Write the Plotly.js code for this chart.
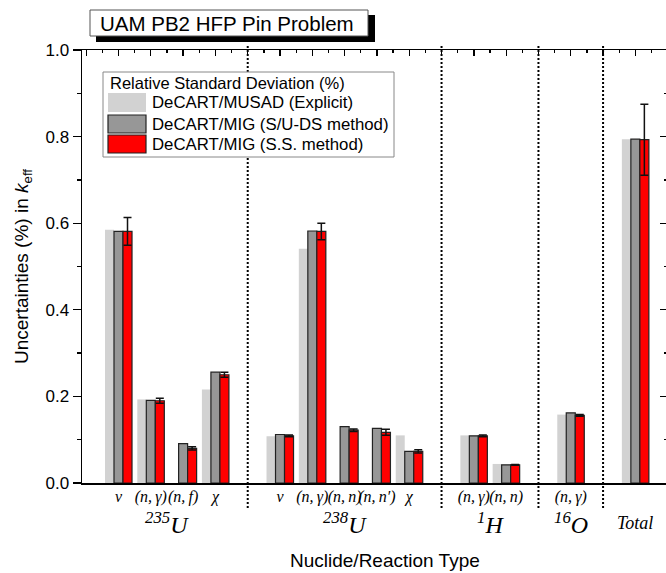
<!DOCTYPE html>
<html>
<head>
<meta charset="utf-8">
<script src="https://cdn.plot.ly/plotly-3.0.1.min.js"></script>
<style>
html,body{margin:0;padding:0;overflow:hidden;background:#fff;}
#chart{width:668px;height:573px;}
</style>
</head>
<body>
<div id="chart"></div>
<script>
// ---- data ----
const categories = ['U235 ν','U235 (n,γ)','U235 (n,f)','U235 χ','sep1',
  'U238 ν','U238 (n,γ)','U238 (n,n)','U238 (n,n′)','U238 χ','sep2',
  'H (n,γ)','H (n,n)','sep3','O (n,γ)','sep4','Total'];
const reactionLabels = ['ν','(n,\u2009γ)','(n,\u2009f)','χ','',
  'ν','(n,\u2009γ)','(n,\u2009n)','(n,\u2009n′)','χ','',
  '(n,\u2009γ)','(n,\u2009n)','','(n,\u2009γ)','',''];
const musadExplicit = [0.585,0.193,null,0.216,null,0.108,0.541,null,null,0.110,null,0.110,0.044,null,0.158,null,0.794];
const migSUDS      = [0.581,0.191,0.091,0.256,null,0.112,0.582,0.130,0.126,0.073,null,0.109,0.042,null,0.162,null,0.794];
const migSS        = [0.581,0.190,0.080,0.250,null,0.109,0.581,0.122,0.117,0.073,null,0.109,0.042,null,0.156,null,0.793];
const migSSerr     = [0.032,0.006,0.004,0.006,null,0.002,0.019,0.003,0.007,0.004,null,0.002,0.001,null,0.002,null,0.082];
const groupLabels = ['<sup>235</sup>U','<sup>238</sup>U','<sup>1</sup>H','<sup>16</sup>O','Total'];
const groupCenters = [1.5, 7, 11.5, 14, 16];
const separators = [4, 10, 13, 15];
const seriesNames = ['DeCART/MUSAD (Explicit)','DeCART/MIG (S/U-DS method)','DeCART/MIG (S.S. method)'];
const legendTitle = 'Relative Standard Deviation (%)';
const chartTitle = 'UAM PB2 HFP Pin Problem';

// ---- layout geometry ----
const W = 668, H = 573;
const M = {l:82, r:0, t:50, b:90};
const xRange = [-1.13, 17.01];
const pw = W - M.l - M.r, ph = H - M.t - M.b;
const px = v => (v - M.l) / pw;          // pixel -> paper x
const py = v => (H - M.b - v) / ph;      // pixel -> paper y
const sx = s => (s - xRange[0]) / (xRange[1] - xRange[0]); // slot -> paper x

const cLight = '#d2d2d2', cGray = '#979797', cRed = '#ff0000';

const tickVals = categories.filter((c,i) => reactionLabels[i] !== '');
const tickText = reactionLabels.filter(l => l !== '');

const traces = [
  {type:'bar', x:categories, y:musadExplicit, name:seriesNames[0],
   marker:{color:cLight, line:{width:0}}, showlegend:false},
  {type:'bar', x:categories, y:migSUDS, name:seriesNames[1],
   marker:{color:cGray, line:{color:'#222', width:1.2}}, showlegend:false},
  {type:'bar', x:categories, y:migSS, name:seriesNames[2],
   marker:{color:cRed, line:{color:'#222', width:1.2}}, showlegend:false,
   error_y:{type:'data', array:migSSerr, visible:true, color:'#111', thickness:1.5, width:4}},
  // empty trace that only makes the top / right tick axes exist
  {type:'scatter', mode:'markers', x:[], y:[], xaxis:'x2', yaxis:'y2', showlegend:false, hoverinfo:'skip'}
];

const shapes = [];
const annotations = [];

// separators
separators.forEach(s => shapes.push({type:'line', xref:'paper', yref:'paper',
  x0:sx(s), x1:sx(s), y0:py(508), y1:py(45), line:{color:'#000', width:2, dash:'2px,2px'}}));

// title box with shadow
shapes.push({type:'rect', xref:'paper', yref:'paper', x0:px(96), x1:px(375), y0:py(42), y1:py(15),
  fillcolor:'#000', line:{width:0}});
shapes.push({type:'rect', xref:'paper', yref:'paper', x0:px(90), x1:px(368), y0:py(36), y1:py(10),
  fillcolor:'#fff', line:{color:'#555', width:1}});
annotations.push({xref:'paper', yref:'paper', x:px(98), y:py(23), xanchor:'left', yanchor:'middle',
  text:chartTitle, showarrow:false, font:{family:'Liberation Sans, Arial', size:20.5, color:'#000'}});

// legend
shapes.push({type:'rect', xref:'paper', yref:'paper', x0:px(103), x1:px(394), y0:py(157), y1:py(72),
  fillcolor:'#fff', line:{color:'#888', width:1}});
annotations.push({xref:'paper', yref:'paper', x:px(108), y:py(83), xanchor:'left', yanchor:'middle',
  text:legendTitle, showarrow:false, font:{family:'Liberation Sans, Arial', size:16.5, color:'#000'}});
const swY = [[93,112],[115,133],[135,153]];
const swC = [cLight, cGray, cRed];
const swL = [{color:cLight,width:0},{color:'#222',width:1.2},{color:'#222',width:1.2}];
for (let i=0;i<3;i++){
  shapes.push({type:'rect', xref:'paper', yref:'paper', x0:px(108), x1:px(146), y0:py(swY[i][1]), y1:py(swY[i][0]),
    fillcolor:swC[i], line:swL[i]});
  annotations.push({xref:'paper', yref:'paper', x:px(150), y:py((swY[i][0]+swY[i][1])/2), xanchor:'left', yanchor:'middle',
    text:seriesNames[i], showarrow:false, font:{family:'Liberation Sans, Arial', size:16.8, color:'#000'}});
}

// group labels
groupLabels.forEach((g,i) => annotations.push({xref:'x', yref:'paper', x:groupCenters[i], y:py(523),
  xanchor:'center', yanchor:'middle', showarrow:false, text:g,
  font:{family:'Liberation Serif, DejaVu Serif, serif', size: g==='Total'?18:24, style:'italic', color:'#000'}}));

// x title
annotations.push({xref:'paper', yref:'paper', x:px(385), y:py(560), xanchor:'center', yanchor:'middle',
  showarrow:false, text:'Nuclide/Reaction Type', font:{family:'Liberation Sans, Arial', size:19, color:'#000'}});

const layout = {
  width:W, height:H, margin:M, paper_bgcolor:'#fff', plot_bgcolor:'rgba(0,0,0,0)',
  barmode:'group', bargap:0.164, bargroupgap:0,
  showlegend:false,
  font:{family:'Liberation Sans, Arial', color:'#000'},
  xaxis:{type:'category', categoryorder:'array', categoryarray:categories, range:xRange,
    tickmode:'array', tickvals:tickVals, ticktext:tickText, ticks:'', tickangle:0, ticklabelstandoff:-2,
    tickfont:{family:'Liberation Serif, DejaVu Serif, serif', size:16, style:'italic', color:'#000'},
    showline:true, mirror:true, linecolor:'#000', linewidth:1.5, showgrid:false, zeroline:false, fixedrange:true},
  xaxis2:{overlaying:'x', side:'top', anchor:'y2', type:'linear', range:xRange, showticklabels:false,
    ticks:'inside', tick0:0, dtick:1, ticklen:6, tickwidth:1.3, tickcolor:'#000',
    minor:{ticks:'inside', tick0:0.5, dtick:1, ticklen:3, tickwidth:1.3, tickcolor:'#000'},
    showgrid:false, zeroline:false, showline:false},
  yaxis:{range:[0,1], dtick:0.2, tickformat:'.1f', ticks:'outside', ticklen:8, tickwidth:1.3, tickcolor:'#000',
    minor:{ticks:'outside', dtick:0.1, ticklen:4, tickwidth:1.3, tickcolor:'#000'},
    showline:true, mirror:true, linecolor:'#000', linewidth:1.5, showgrid:false, zeroline:false,
    tickfont:{family:'Liberation Sans, Arial', size:17, color:'#000'},
    title:{text:'Uncertainties (%) in <i>k</i><sub>eff</sub>', standoff:12,
      font:{family:'Liberation Sans, Arial', size:19, color:'#000'}}},
  yaxis2:{overlaying:'y', side:'right', anchor:'x2', range:[0,1], showticklabels:false,
    ticks:'inside', dtick:0.2, ticklen:8, tickwidth:1.3, tickcolor:'#000',
    minor:{ticks:'inside', dtick:0.1, ticklen:4, tickwidth:1.3, tickcolor:'#000'},
    showgrid:false, zeroline:false, showline:false},
  shapes:shapes, annotations:annotations
};

Plotly.newPlot('chart', traces, layout, {staticPlot:true, displayModeBar:false});
</script>
</body>
</html>
